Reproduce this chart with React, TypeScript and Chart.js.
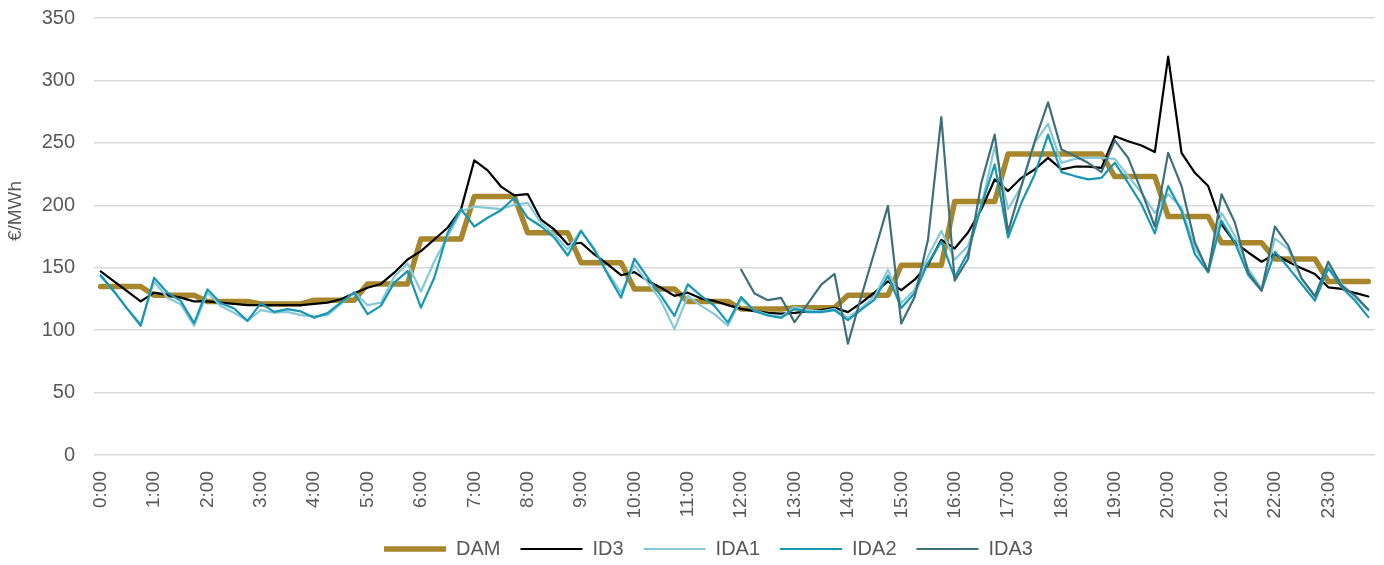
import React, { useEffect, useRef } from "react";
import { Chart, registerables } from "chart.js";

Chart.register(...registerables);

// 15-minute delivery periods 0:00 … 23:45
const TIMES: string[] = [];
for (let h = 0; h < 24; h++) {
  for (const m of ["00", "15", "30", "45"]) TIMES.push(`${h}:${m}`);
}

const Y_TITLE = "€/MWh";
const Y_TICKS_MAX = 350;
const Y_STEP = 50;

const DAM = [
  135, 135, 135, 135, 128, 128, 128, 128, 123, 123, 123, 123, 121, 121, 121, 121,
  124, 124, 124, 124, 137, 137, 137, 137, 173, 173, 173, 173, 207, 207, 207, 207,
  178, 178, 178, 178, 154, 154, 154, 154, 133, 133, 133, 133, 123, 123, 123, 123,
  117, 117, 117, 117, 118, 118, 118, 118, 128, 128, 128, 128, 152, 152, 152, 152,
  203, 203, 203, 203, 241, 241, 241, 241, 241, 241, 241, 241, 223, 223, 223, 223,
  191, 191, 191, 191, 170, 170, 170, 170, 157, 157, 157, 157, 139, 139, 139, 139,
];

const ID3 = [
  147, 139, 131, 123, 130, 128, 126, 123, 123, 122, 121, 120, 120, 120, 120, 120,
  121, 122, 124.7, 129.5, 134, 137, 146, 156.6, 163.3, 172.6, 182, 196.5, 236, 228, 215, 208,
  209, 188.5, 180.6, 168.6, 170, 160.6, 152.7, 144, 146.5, 139.4, 134, 127.4, 130, 125.3, 123.4, 120,
  117, 115.2, 113.8, 113.3, 113.8, 115, 116, 117.8, 114.4, 121.8, 130.3, 139, 132, 140.4, 152.4, 172.3,
  165.4, 178.2, 196.8, 220.7, 211.4, 222, 228.7, 238, 228.7, 230.9, 230.9, 230, 255.3, 251.3, 247.9, 242.6,
  319, 242, 226, 215.4, 184.8, 170.2, 162.2, 154.8, 160.9, 154.8, 149.5, 145, 134.3, 133, 129.8, 126.9,
];

const IDA1 = [
  143, 131, 117, 105, 139, 126, 120.7, 103.5, 130, 119.4, 114, 107.4, 116, 114, 114.6, 112,
  111, 112, 121, 130.6, 120, 122, 143, 153.5, 131, 155, 175, 195, 199, 198, 197, 200.5,
  201.9, 186, 176.6, 164.6, 180, 164, 146, 130, 152, 138, 123.4, 100.8, 127.4, 119.4, 112.8, 103.5,
  124.5, 115.7, 112.5, 110.6, 118.6, 116, 115, 117, 109.8, 117.8, 127, 148.4, 121.8, 132.4, 159, 179.5,
  156.4, 167.6, 199.5, 246.8, 196.8, 215.4, 250, 265.4, 234, 237.2, 238, 238, 237.2, 223.4, 210, 194,
  208.8, 198, 166, 147.6, 194, 175.5, 149, 133, 173.4, 164.9, 141, 127.7, 151.6, 137, 126.3, 115.7,
];

const IDA2 = [
  144, 131, 117, 103.5, 142, 130, 123.4, 105.6, 132.7, 121.5, 117.3, 107.4, 121.5, 114.6, 116.8, 115,
  110, 113.6, 122, 130, 112.8, 119.4, 138, 147.3, 118, 142, 178, 197, 183, 190, 196, 206,
  190, 183.2, 174, 159.8, 179.3, 164.6, 144.7, 126, 157.2, 142, 127.4, 111.4, 136.7, 127.4, 119.4, 106,
  126.6, 115.2, 111.7, 109.8, 117, 114.4, 114.4, 116, 108, 116.5, 124.5, 143.6, 117.8, 129.8, 153.7, 171,
  142.3, 162.2, 199.5, 232.7, 174.2, 202, 224.7, 256.6, 226.6, 223.4, 220.7, 222, 234, 218, 200.8, 177.5,
  215.4, 195.5, 160.9, 146.3, 187.5, 170.2, 144.1, 131.6, 162.8, 150.3, 137, 123.7, 149.5, 134.3, 123.7, 110.4,
];

const IDA3: (number | null)[] = [
  null, null, null, null, null, null, null, null, null, null, null, null, null, null, null, null,
  null, null, null, null, null, null, null, null, null, null, null, null, null, null, null, null,
  null, null, null, null, null, null, null, null, null, null, null, null, null, null, null, null,
  148.4, 129.3, 124, 125.8, 106.4, 121.3, 136.4, 145, 89.1, 127, 163, 199.5, 105.3, 126.6, 172.3, 270.7,
  139.6, 157, 218, 256.6, 178.7, 215.4, 251.3, 282.4, 244.7, 239.4, 234, 226.6, 252, 238, 211.4, 183,
  242, 215.4, 170.2, 146.8, 208.8, 186.2, 146.3, 131.6, 183, 167.6, 141.5, 127.1, 154.8, 135.6, 127.7, 116.5,
];

const FONT = '"Liberation Sans", Arial, Helvetica, sans-serif';
const TEXT = "#595959";

const yTitlePlugin = {
  id: "yTitleCustom",
  afterDraw(chart: any) {
    const { ctx } = chart;
    ctx.save();
    ctx.translate(16, 211);
    ctx.rotate(-Math.PI / 2);
    ctx.font = `19px ${FONT}`;
    ctx.fillStyle = TEXT;
    ctx.textAlign = "center";
    ctx.textBaseline = "middle";
    ctx.fillText(Y_TITLE, 0, 0);
    ctx.restore();
  },
};

export default function App() {
  const ref = useRef<HTMLCanvasElement | null>(null);

  useEffect(() => {
    if (!ref.current) return;
    const mk = (label: string, data: any[], color: string, width: number, order: number) => ({
      label,
      data,
      borderColor: color,
      backgroundColor: color,
      borderWidth: width,
      pointRadius: 0,
      pointHoverRadius: 0,
      tension: 0,
      fill: false,
      borderCapStyle: "round" as const,
      borderJoinStyle: "round" as const,
      spanGaps: false,
      order,
    });
    const chart = new Chart(ref.current, {
      type: "line",
      data: {
        labels: TIMES,
        datasets: [
          mk("DAM", DAM, "#a8862b", 5.5, 5),
          mk("ID3", ID3, "#000000", 2.2, 4),
          mk("IDA1", IDA1, "#85c9d9", 2.2, 3),
          mk("IDA2", IDA2, "#1797b2", 2.2, 2),
          mk("IDA3", IDA3, "#3f6f79", 2.2, 1),
        ],
      },
      options: {
        animation: false,
        responsive: true,
        maintainAspectRatio: false,
        layout: { padding: { left: 42, right: 9, top: 18, bottom: -4 } },
        plugins: {
          tooltip: { enabled: false },
          title: { display: false },
          legend: {
            display: true,
            position: "bottom",
            labels: {
              usePointStyle: true,
              pointStyle: "line",
              pointStyleWidth: 62,
              boxWidth: 62,
              padding: 20,
              color: TEXT,
              font: { family: FONT, size: 20 },
              sort: (a: any, b: any) => a.datasetIndex - b.datasetIndex,
            },
          },
        },
        scales: {
          x: {
            offset: true,
            grid: { display: false, drawTicks: false },
            border: { display: false },
            afterFit: (scale: any) => {
              scale.height = 64;
              scale.paddingLeft = 0;
              scale.paddingRight = 0;
            },
            ticks: {
              autoSkip: false,
              minRotation: 90,
              maxRotation: 90,
              padding: 16,
              color: TEXT,
              font: { family: FONT, size: 19 },
              callback: (_v: any, i: number) => (i % 4 === 0 ? TIMES[i] : ""),
            },
          },
          y: {
            min: 0,
            max: Y_TICKS_MAX,
            grid: { color: "#d9d9d9", lineWidth: 1.5, drawTicks: false },
            border: { display: false },
            afterFit: (scale: any) => {
              scale.width = 52;
              scale.paddingTop = 0;
              scale.paddingBottom = 0;
            },
            ticks: {
              stepSize: Y_STEP,
              padding: 19,
              color: TEXT,
              font: { family: FONT, size: 20 },
            },
          },
        },
      },
      plugins: [yTitlePlugin],
    });
    return () => chart.destroy();
  }, []);

  return (
    <div style={{ position: "fixed", left: 0, top: 0, width: 1384, height: 565, background: "#fff" }}>
      <canvas ref={ref} />
    </div>
  );
}
